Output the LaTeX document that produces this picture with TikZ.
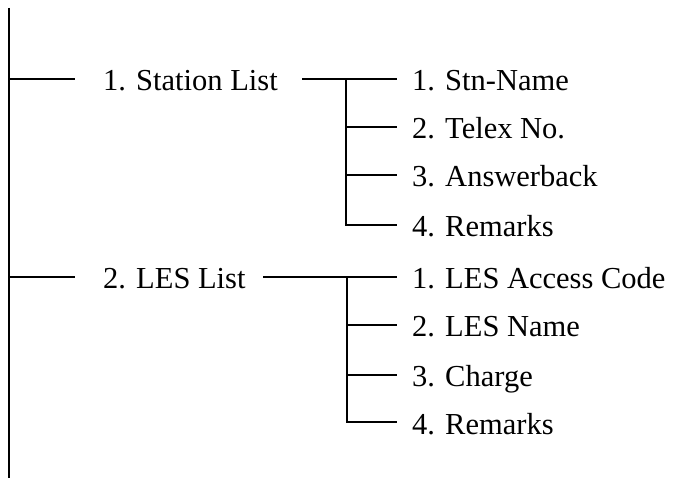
\documentclass[tikz,border=0pt]{standalone}
\usepackage{fontspec}
\setmainfont{Liberation Serif}
\begin{document}
\begin{tikzpicture}[x=1pt,y=-1pt,
  lbl/.style={anchor=west,inner sep=0pt,text height=24pt,text depth=0pt,font=\fontsize{30.5}{34}\selectfont},
  ln/.style={line width=1.9pt}]
\useasboundingbox (0,0) rectangle (675,478);
% trunk
\coordinate (ttop) at (9,8);
\coordinate (tbot) at (9,478);
% level-1 labels
\node[lbl] (s1) at (103,79) {1. Station List};
\node[lbl] (s2) at (103,277) {2. LES List};
% children
\node[lbl] (c11) at (412,79) {1. Stn-Name};
\node[lbl] (c12) at (412,127) {2. Telex No.};
\node[lbl] (c13) at (412,175) {3. Answerback};
\node[lbl] (c14) at (412,225) {4. Remarks};
\node[lbl] (c21) at (412,277) {1. LES Access Code};
\node[lbl] (c22) at (412,325) {2. LES Name};
\node[lbl] (c23) at (412,375) {3. Charge};
\node[lbl] (c24) at (412,422) {4. Remarks};
% junctions on the trunk and branch points
\coordinate (j1) at (ttop |- s1.west);
\coordinate (j2) at (ttop |- s2.west);
\coordinate (b1) at (346,79);
\coordinate (b2) at (347,277);
\coordinate (e1) at (302,79);
\coordinate (e2) at (263,277);
% connectors
\draw[ln] (ttop) -- (tbot);
\draw[ln] (j1) -- ([xshift=-28pt]s1.west);
\draw[ln] (j2) -- ([xshift=-28pt]s2.west);
\draw[ln] (e1) -- ([xshift=-15pt]c11.west);
\draw[ln] (e2) -- ([xshift=-15pt]c21.west);
\draw[ln] (b1) |- ([xshift=-15pt]c14.west);
\draw[ln] (b1 |- c12.west) -- ([xshift=-15pt]c12.west);
\draw[ln] (b1 |- c13.west) -- ([xshift=-15pt]c13.west);
\draw[ln] (b2) |- ([xshift=-15pt]c24.west);
\draw[ln] (b2 |- c22.west) -- ([xshift=-15pt]c22.west);
\draw[ln] (b2 |- c23.west) -- ([xshift=-15pt]c23.west);
\end{tikzpicture}
\end{document}
